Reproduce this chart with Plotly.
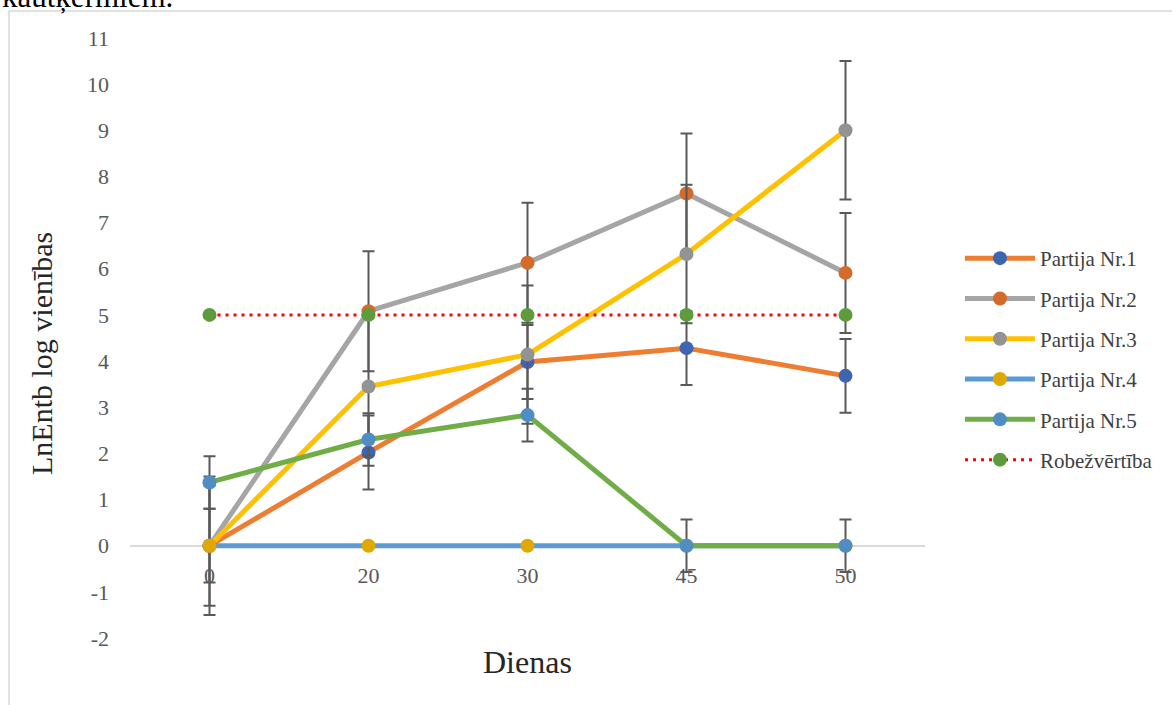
import plotly.graph_objects as go

days = ["0", "20", "30", "45", "50"]
names = ["Partija Nr.1", "Partija Nr.2", "Partija Nr.3", "Partija Nr.4", "Partija Nr.5", "Robežvērtība"]
nr1 = [0, 2.02, 3.98, 4.28, 3.68]
nr2 = [0, 5.08, 6.13, 7.63, 5.91]
nr3 = [0, 3.45, 4.14, 6.32, 9.0]
nr4 = [0, 0, 0, 0, 0]
nr5 = [1.37, 2.3, 2.83, 0, 0]
limit = [5, 5, 5, 5, 5]
err1 = [0.8] * 5
err2 = [1.3] * 5
err3 = [1.5] * 5
err5 = [0.57] * 5
y_ticks = list(range(-2, 12))
y_tick_labels = [str(v) for v in y_ticks]

series = [nr1, nr2, nr3, nr4, nr5, limit]
errors = [err1, err2, err3, None, err5, None]
line_colors = ["#ED7D31", "#A5A5A5", "#FFC000", "#5B9BD5", "#70AD47", "#FF0000"]
marker_colors = ["#4065B0", "#D46B2A", "#939393", "#E0A800", "#4F8DC2", "#5E9B3D"]

FONT = "Liberation Serif"

fig = go.Figure()
for i, (nm, ys) in enumerate(zip(names, series)):
    is_limit = nm == "Robežvērtība"
    err = errors[i]
    fig.add_trace(go.Scatter(
        x=days, y=ys, name=nm, mode="lines+markers",
        legendgroup=nm,
        line=dict(color=line_colors[i], width=3 if is_limit else 5,
                  dash="3px,5px" if is_limit else "solid"),
        marker=dict(color=marker_colors[i], size=14),
        error_y=dict(type="data", array=err, visible=True, color="#595959",
                     thickness=2, width=6) if err is not None else None,
        cliponaxis=False,
    ))

fig.update_layout(
    width=1173, height=705,
    margin=dict(l=130, r=248, t=38, b=67),
    paper_bgcolor="white", plot_bgcolor="white",
    font=dict(family=FONT, color="#404040"),
    showlegend=True,
    legend=dict(
        x=1.044, y=0.465, xanchor="left", yanchor="middle",
        font=dict(family=FONT, size=21, color="#404040"),
        itemwidth=70, tracegroupgap=10, traceorder="grouped",
        bgcolor="rgba(0,0,0,0)",
    ),
    xaxis=dict(
        type="category", categoryorder="array", categoryarray=days,
        range=[-0.5, 4.5],
        anchor="free", position=2 / 13,
        showline=True, linecolor="#D9D9D9", linewidth=1.5,
        layer="below traces",
        showgrid=False, zeroline=False,
        ticks="", ticklabelstandoff=10,
        tickfont=dict(family=FONT, size=22, color="#595959"),
    ),
    yaxis=dict(
        range=[-2, 11], tickmode="array", tickvals=y_ticks, ticktext=y_tick_labels,
        showgrid=False, zeroline=False, showline=False,
        ticks="", ticklabelstandoff=20,
        tickfont=dict(family=FONT, size=22, color="#595959"),
    ),
    annotations=[
        dict(text="LnEntb log vienības", xref="paper", yref="paper",
             x=(42 - 130) / 795, y=(638 - 354) / 600, textangle=-90,
             showarrow=False, xanchor="center", yanchor="middle",
             font=dict(family=FONT, size=30, color="#262626")),
        dict(text="Dienas", xref="paper", yref="paper",
             x=0.5, y=(638 - 662) / 600,
             showarrow=False, xanchor="center", yanchor="middle",
             font=dict(family=FONT, size=32, color="#262626")),
        dict(text="kautķermiem.", xref="paper", yref="paper",
             x=(0 - 130) / 795, y=(638 - 16) / 600,
             showarrow=False, xanchor="left", yanchor="bottom",
             font=dict(family=FONT, size=31, color="#000000")),
    ],
    shapes=[
        dict(type="line", xref="paper", yref="paper",
             x0=(9 - 130) / 795, x1=(1172 - 130) / 795,
             y0=(638 - 11) / 600, y1=(638 - 11) / 600,
             line=dict(color="#D9D9D9", width=1.5)),
        dict(type="line", xref="paper", yref="paper",
             x0=(9 - 130) / 795, x1=(9 - 130) / 795,
             y0=(638 - 11) / 600, y1=(638 - 710) / 600,
             line=dict(color="#D9D9D9", width=1.5)),
    ],
)

fig.write_html("out.html")
